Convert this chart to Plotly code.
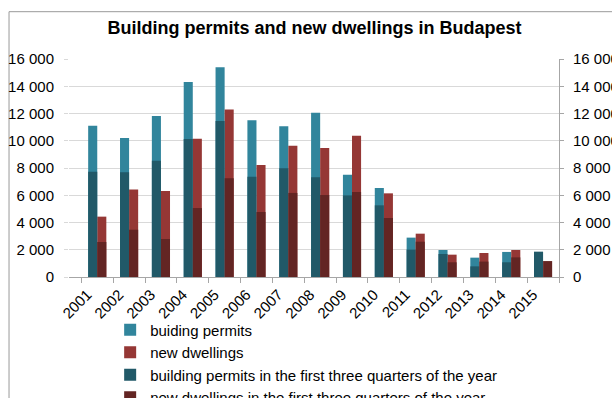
import plotly.graph_objects as go

# Annual building permits and new dwellings in Budapest
years = [str(y) for y in range(2001, 2016)]
permits = [11100, 10200, 11820, 14310, 15390, 11500, 11060, 12060, 7510, 6530,
           2890, 1980, 1420, 1840, None]
dwellings = [4430, 6430, 6310, 10150, 12300, 8220, 9640, 9470, 10370, 6140,
             3180, 1640, 1760, 1980, None]
permits_q3 = [7730, 7680, 8540, 10130, 11450, 7360, 7980, 7320, 5990, 5260,
              2010, 1690, 780, 1080, 1860]
dwellings_q3 = [2570, 3470, 2790, 5060, 7240, 4770, 6170, 6020, 6240, 4330,
                2590, 1080, 1130, 1440, 1170]

tick_vals = [0, 2000, 4000, 6000, 8000, 10000, 12000, 14000, 16000]
tick_text = ["0", "2 000", "4 000", "6 000", "8 000", "10 000", "12 000", "14 000", "16 000"]

C_PERMIT = "#31859c"
C_DWELL = "#953735"
C_PERMIT_Q3 = "#215968"
C_DWELL_Q3 = "#632523"

FONT = "Liberation Sans, Arial, sans-serif"

fig = go.Figure()
fig.add_trace(go.Bar(x=years, y=permits, name="buiding permits",
                     marker=dict(color=C_PERMIT, line=dict(width=0)), offsetgroup="p"))
fig.add_trace(go.Bar(x=years, y=dwellings, name="new dwellings",
                     marker=dict(color=C_DWELL, line=dict(width=0)), offsetgroup="d"))
fig.add_trace(go.Bar(x=years, y=permits_q3,
                     name="building permits in the first three quarters of the year",
                     marker=dict(color=C_PERMIT_Q3, line=dict(width=0)), offsetgroup="p"))
fig.add_trace(go.Bar(x=years, y=dwellings_q3,
                     name="new dwellings in the first three quarters of the year",
                     marker=dict(color=C_DWELL_Q3, line=dict(width=0)), offsetgroup="d"))
# carrier trace so the mirrored right-hand value axis is drawn
fig.add_trace(go.Scatter(x=[years[0]], y=[0], yaxis="y2", mode="markers",
                         marker=dict(opacity=0), showlegend=False, hoverinfo="skip"))

axis_grey = "#a6a6a6"
fig.update_layout(
    width=612, height=398,
    margin=dict(l=69, r=53, t=59, b=121, autoexpand=False),
    paper_bgcolor="white", plot_bgcolor="white",
    font=dict(family=FONT, size=15, color="#000000"),
    barmode="group", bargap=0.43, bargroupgap=0,
    title=dict(text="<b>Building permits and new dwellings in Budapest</b>",
               font=dict(size=18, family=FONT, color="#000000"),
               x=0.514, xanchor="center", y=0.93, yanchor="middle"),
    xaxis=dict(type="category", showline=True, linecolor=axis_grey, linewidth=1,
               ticks="outside", tickson="boundaries", ticklen=5, tickcolor=axis_grey,
               tickangle=-45, tickfont=dict(size=15), showgrid=False,
               ticklabelshift=-10, ticklabelstandoff=2),
    yaxis=dict(range=[0, 16000], tickvals=tick_vals, ticktext=tick_text,
               showgrid=True, gridcolor="#d9d9d9", gridwidth=1, zeroline=False,
               ticks="outside", ticklen=4, tickcolor="#d9d9d9", ticklabelstandoff=7,
               showline=False, tickfont=dict(size=15)),
    yaxis2=dict(range=[0, 16000], tickvals=tick_vals, ticktext=tick_text,
                overlaying="y", side="right", showgrid=False, zeroline=False,
                showline=True, linecolor=axis_grey, linewidth=1,
                ticks="outside", ticklen=4, tickcolor=axis_grey, ticklabelstandoff=6,
                tickfont=dict(size=15)),
    legend=dict(xref="container", x=0.18, xanchor="left",
                yref="container", y=0.212, yanchor="top",
                orientation="v", font=dict(size=15), bgcolor="rgba(0,0,0,0)",
                traceorder="normal", tracegroupgap=0),
    showlegend=True,
    shapes=[dict(type="rect", xref="paper", yref="paper",
                 x0=-0.1224, x1=1.5, y0=-1.0, y1=1.217,
                 line=dict(color="#999999", width=1), fillcolor="rgba(0,0,0,0)",
                 layer="below")],
)

fig.write_html("out.html")
